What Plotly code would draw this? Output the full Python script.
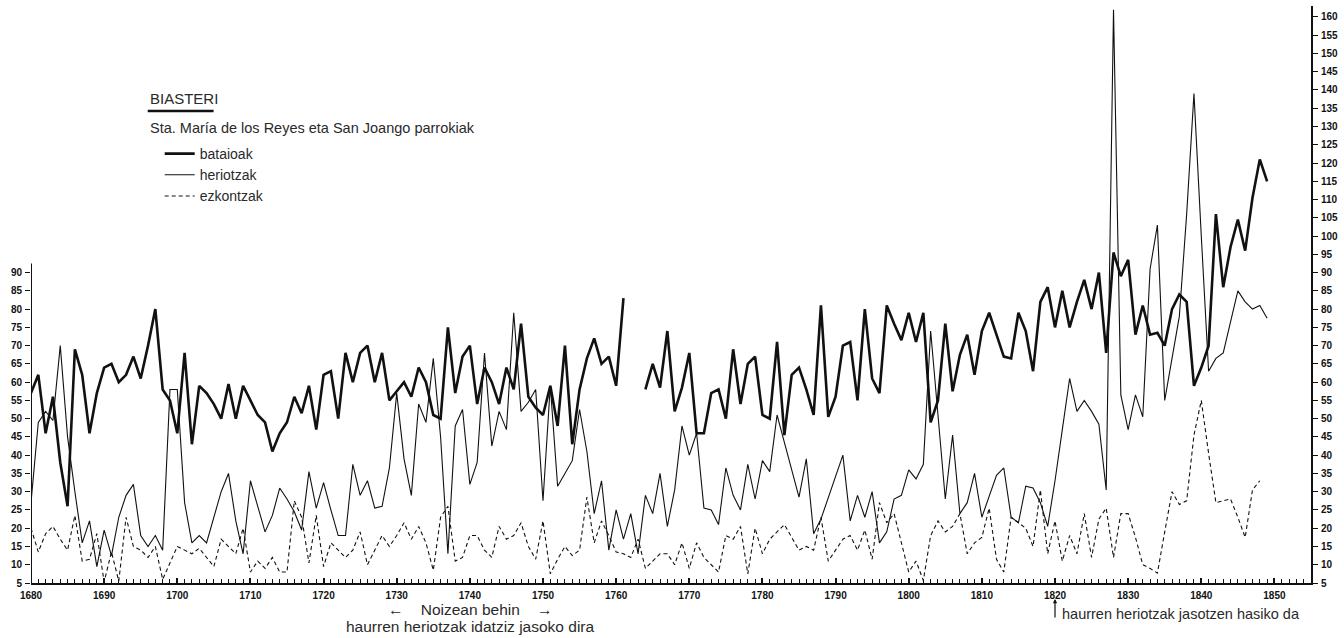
import plotly.graph_objects as go

# ---------------- data ----------------
years = list(range(1680, 1850))

bataioak = [
    57, 62, 46, 56, 38, 26, 69, 62, 46, 57,          # 1680-1689
    64, 65, 60, 62, 67, 61, 70, 80, 58, 55,          # 1690-1699
    46, 68, 43, 59, 57, 54, 50, 59.5, 50, 59,        # 1700-1709
    55, 51, 49, 41, 46, 49, 56, 51.5, 59, 47,        # 1710-1719
    62, 63, 50, 68, 60, 68, 70, 60, 68, 55,          # 1720-1729
    57.5, 60, 56, 64, 60, 51, 50, 75, 57, 67,        # 1730-1739
    70, 54, 64, 60, 54, 64, 58, 76, 56, 53,          # 1740-1749
    51, 59, 48, 70, 43, 58, 66.5, 72, 65, 67,        # 1750-1759
    59, 83, None, None, 58, 65, 58.5, 74, 52, 58.5,  # 1760-1769
    68, 46, 46, 57, 58, 50, 69, 54, 65, 67,          # 1770-1779
    51, 50, 71, 45.5, 62, 64, 58, 51, 81, 50.5,      # 1780-1789
    56, 70, 71, 55, 80, 61, 57, 81, 76, 71.5,        # 1790-1799
    79, 71, 79, 49, 55, 76, 57.5, 67.5, 73, 62,      # 1800-1809
    74, 79, 73, 67, 66.5, 79, 74, 63, 82, 86,        # 1810-1819
    75, 85, 75, 82, 88, 80, 90, 68, 95.5, 89,        # 1820-1829
    93.5, 73, 81, 73, 73.5, 70, 80, 84, 82, 59,      # 1830-1839
    64, 70, 106, 86, 97, 104.5, 96, 110.5, 121, 115, # 1840-1849
]

heriotzak = [
    27, 49, 52, 49.5, 70, 45, 30, 16, 22, 9.5,       # 1680-1689
    19.5, 12.5, 23, 29, 32, 18, 15, 18, 14, 58,      # 1690-1699
    58, 27, 16, 18, 16, 23, 30, 35, 22, 13,          # 1700-1709
    33, 26, 19, 23.5, 31, 28, 24.5, 19.5, 35.5, 25.5,  # 1710-1719
    32.5, 25, 18, 18, 37.5, 29, 33, 25.5, 26, 36.5,  # 1720-1729
    57, 39, 29, 54, 49, 66.5, 45, 13, 48, 52.5,      # 1730-1739
    32, 38, 68, 42.5, 52, 47, 79, 52, 54.5, 58,      # 1740-1749
    27.5, 59, 31.5, 35, 38.5, 52.5, 41, 24, 33, 14,  # 1750-1759
    25, 17, 24, 13, 29, 24, 35, 20.5, 30.5, 48,      # 1760-1769
    40, 46, 25.5, 25, 21, 36.5, 29, 25, 37.5, 28,    # 1770-1779
    38.5, 35.5, 51, 43.5, 36, 28.5, 39, 18.5, 22.5, 28.5,  # 1780-1789
    34.5, 40, 22, 29, 23, 30, 16, 19, 28, 29,        # 1790-1799
    36, 33.5, 37.5, 74, 51, 28, 45.5, 24, 27, 35,    # 1800-1809
    23, 29, 34.5, 36.5, 23, 21.5, 31.5, 31, 27, 20.5,  # 1810-1819
    33, 47, 61, 52, 55, 52, 48.5, 30.5, 162, 56.5,   # 1820-1829
    47, 56.5, 50.5, 91, 103, 55, 66.5, 78, 106, 139, # 1830-1839
    100, 63, 66.5, 68, 76.5, 85, 82, 80, 81, 77.5,   # 1840-1849
]

ezkontzak = [
    20, 13.5, 18.5, 20.5, 17, 14, 23.5, 11, 11.5, 18.5,  # 1680-1689
    5.3, 13.5, 5.5, 23, 15, 14, 12, 15, 6, 10.5,     # 1690-1699
    15, 14, 13, 14.5, 12, 9.5, 17, 15, 13, 20,       # 1700-1709
    8, 11, 9, 12, 8, 8, 27.5, 23, 10.5, 23.5,        # 1710-1719
    9.5, 16, 14, 12, 14, 19, 10, 14, 18, 15,         # 1720-1729
    18, 21.5, 17, 20.5, 16, 8.5, 23, 26, 11, 12,     # 1730-1739
    18, 18, 14, 12, 20.5, 17, 18, 21.5, 15, 11.5,    # 1740-1749
    22, 7.5, 11.5, 15, 12.5, 14, 28.5, 16, 22, 18,   # 1750-1759
    13.5, 13, 12, 17, 9, 11, 13, 13, 10, 16,         # 1760-1769
    9, 16, 12, 10, 8, 18, 17, 20.5, 7.5, 20,         # 1770-1779
    13, 17, 19, 21, 17.5, 14, 15, 14, 23, 11,        # 1780-1789
    14, 17, 18, 14, 19.5, 11.5, 27, 21.5, 24, 16,    # 1790-1799
    8, 11, 5.7, 18, 22, 19, 20.5, 24, 13, 16,        # 1800-1809
    17.5, 25.5, 11.5, 8, 23, 21.5, 20, 15, 30.5, 13, # 1810-1819
    22, 11, 18, 13, 24, 12, 22.5, 25.5, 12, 24,      # 1820-1829
    24, 17.5, 10, 9, 7.7, 19, 30, 26.5, 27.5, 45.5,  # 1830-1839
    55, 40.5, 27, 27.5, 28, 23, 17.5, 30.5, 33,      # 1840-1848
]
ezk_years = years[:len(ezkontzak)]

x_tickvals = list(range(1680, 1851, 10))
left_tickvals = list(range(5, 91, 5))
right_tickvals = list(range(5, 161, 5))

# ---------------- geometry ----------------
W, H = 1344, 638
L, R, T, B = 31, 30, 6, 55
PW, PH = W - L - R, H - T - B


def px(xp):
    return (xp - L) / PW


def py(yp):
    return (H - B - yp) / PH


INK = "#111111"
TXT = "#2a2a2a"
FAM = "Liberation Sans, Arial, sans-serif"
tickfont = dict(family=FAM, size=10, color=INK, weight="bold")
textfont = dict(family=FAM, size=14.5, color=TXT)
notefont = dict(family=FAM, size=15.5, color=TXT)

fig = go.Figure()
fig.add_trace(go.Scatter(x=years, y=bataioak, mode="lines", name="bataioak",
                         line=dict(color=INK, width=2.6), connectgaps=False))
fig.add_trace(go.Scatter(x=years, y=heriotzak, mode="lines", name="heriotzak",
                         line=dict(color=INK, width=1.1)))
fig.add_trace(go.Scatter(x=ezk_years, y=ezkontzak, mode="lines", name="ezkontzak",
                         line=dict(color=INK, width=1.1, dash="4px,3px")))
fig.add_trace(go.Scatter(x=[x_tickvals[0]], y=[right_tickvals[0]], yaxis="y2", mode="markers",
                         marker=dict(opacity=0), showlegend=False, hoverinfo="skip"))

fig.update_layout(
    width=W, height=H,
    margin=dict(l=L, r=R, t=T, b=B, pad=0),
    paper_bgcolor="white", plot_bgcolor="white",
    showlegend=True,
    legend=dict(x=px(160), y=py(138), xanchor="left", yanchor="top",
                font=dict(family=FAM, size=14, color=TXT), bgcolor="rgba(0,0,0,0)",
                borderwidth=0, itemwidth=30, tracegroupgap=0),
    xaxis=dict(range=[1680, 1855], tickmode="array", tickvals=x_tickvals,
               ticks="inside", ticklen=5, tickwidth=1.5, tickcolor=INK,
               minor=dict(tickmode="linear", tick0=1680, dtick=1, ticks="inside",
                          ticklen=4, tickwidth=1, tickcolor=INK),
               showline=True, linewidth=2, linecolor=INK, mirror=False,
               showgrid=False, zeroline=False, tickfont=tickfont, ticklabelstandoff=2),
    yaxis=dict(range=[5, 163], tickmode="array", tickvals=left_tickvals,
               ticks="outside", ticklen=5, tickwidth=1.3, tickcolor=INK,
               showline=False, showgrid=False, zeroline=False, tickfont=tickfont,
               ticklabelstandoff=1),
    yaxis2=dict(range=[5, 163], overlaying="y", side="right", tickmode="array",
                tickvals=right_tickvals, ticks="outside", ticklen=5, tickwidth=1.3,
                tickcolor=INK, showline=True, linewidth=2, linecolor=INK,
                showgrid=False, zeroline=False, tickfont=tickfont, ticklabelstandoff=1),
)

# short left axis line (only up to ~92)
fig.add_shape(type="line", xref="x", yref="y", x0=1680, x1=1680, y0=5, y1=92.5,
              line=dict(color=INK, width=2))

# title block
fig.add_annotation(xref="paper", yref="paper", x=px(148), y=py(99), xanchor="left", yanchor="middle",
                   text="BIASTERI", showarrow=False, font=dict(family=FAM, size=15, color=TXT))
fig.add_shape(type="line", xref="paper", yref="paper", x0=px(148), x1=px(214), y0=py(111), y1=py(111),
              line=dict(color=INK, width=2.5))
fig.add_annotation(xref="paper", yref="paper", x=px(148), y=py(128), xanchor="left", yanchor="middle",
                   text="Sta. María de los Reyes eta San Joango parrokiak", showarrow=False, font=textfont)

# bottom notes
fig.add_annotation(xref="paper", yref="paper", x=px(472), y=py(609), xanchor="center", yanchor="middle",
                   text="←    Noizean behin    →", showarrow=False, font=notefont)
fig.add_annotation(xref="paper", yref="paper", x=px(472), y=py(626), xanchor="center", yanchor="middle",
                   text="haurren heriotzak idatziz jasoko dira", showarrow=False, font=notefont)
fig.add_annotation(xref="paper", yref="paper", x=px(1062), y=py(614), xanchor="left", yanchor="middle",
                   text="haurren heriotzak jasotzen hasiko da", showarrow=False, font=textfont)
fig.add_annotation(xref="x", yref="paper", x=1820, y=py(599), ax=0, ay=20, text="",
                   showarrow=True, arrowhead=2, arrowsize=0.7, arrowwidth=1.2, arrowcolor=INK)

fig.write_html("out.html", config={"displayModeBar": False},
               post_script="document.body.style.margin='0px';")
